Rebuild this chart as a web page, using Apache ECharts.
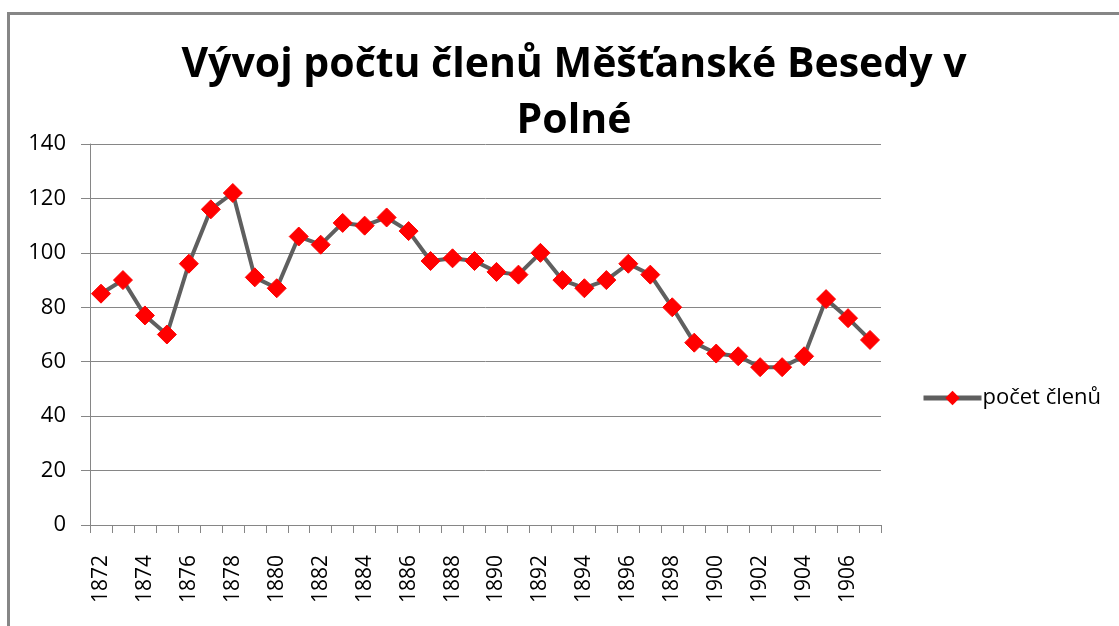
<!DOCTYPE html>
<html>
<head>
<meta charset="utf-8">
<script src="https://cdn.jsdelivr.net/npm/echarts@6/dist/echarts.min.js"></script>
<style>
  html, body { margin: 0; padding: 0; background: #fff; }
  #frame {
    position: absolute; left: 7px; top: 12px; width: 1120px; height: 630px;
    border-top: 3px solid #868686; border-left: 3px solid #868686;
  }
  #chart { position: absolute; left: 0; top: 0; width: 1119px; height: 626px; }
</style>
</head>
<body>
<div id="frame"></div>
<div id="chart"></div>
<script>
const years = ['1872', '1873', '1874', '1875', '1876', '1877', '1878', '1879', '1880', '1881',
  '1882', '1883', '1884', '1885', '1886', '1887', '1888', '1889', '1890', '1891',
  '1892', '1893', '1894', '1895', '1896', '1897', '1898', '1899', '1900', '1901',
  '1902', '1903', '1904', '1905', '1906', '1907']
const members = [85, 90, 77, 70, 96, 116, 122, 91, 87, 106,
  103, 111, 110, 113, 108, 97, 98, 97, 93, 92,
  100, 90, 87, 90, 96, 92, 80, 67, 63, 62,
  58, 58, 62, 83, 76, 68]
const seriesName = 'počet členů'
const titleText = 'Vývoj počtu členů Měšťanské Besedy v\nPolné'

const labelFont = '"Open Sans", "DejaVu Sans", sans-serif'

const myChart = echarts.init(document.getElementById('chart'))
myChart.setOption({
  animation: false,
  title: {
    text: titleText,
    left: 569,
    top: 32,
    textAlign: 'center',
    textStyle: {
      fontFamily: labelFont,
      fontSize: 41,
      fontWeight: 'bold',
      color: '#000',
      lineHeight: 56
    }
  },
  legend: {
    data: [seriesName],
    left: 916,
    top: 382,
    itemWidth: 58,
    itemHeight: 18,
    itemGap: 2,
    lineStyle: { width: 5, color: '#5f5f5f' },
    textStyle: { fontFamily: labelFont, fontSize: 22, color: '#000', padding: [0, 0, 0, -4] }
  },
  grid: {
    left: 90,
    right: 238,
    top: 144,
    bottom: 101
  },
  xAxis: {
    type: 'category',
    data: years,
    boundaryGap: true,
    axisLine: { lineStyle: { color: '#868686', width: 1 } },
    axisTick: { show: true, interval: 0, length: 8, lineStyle: { color: '#868686' } },
    axisLabel: {
      interval: 1,
      rotate: 90,
      margin: 30,
      fontFamily: labelFont,
      fontSize: 21,
      color: '#000'
    },
    splitLine: { show: false }
  },
  yAxis: {
    type: 'value',
    min: 0,
    max: 140,
    interval: 20,
    axisLine: { show: true, lineStyle: { color: '#868686', width: 1 } },
    axisTick: { show: true, length: 9, lineStyle: { color: '#868686' } },
    axisLabel: {
      margin: 24,
      fontFamily: labelFont,
      fontSize: 22,
      color: '#000'
    },
    splitLine: { lineStyle: { color: '#868686', width: 1 } }
  },
  series: [{
    name: seriesName,
    type: 'line',
    data: members,
    symbol: 'diamond',
    symbolSize: 19,
    showAllSymbol: true,
    lineStyle: { color: '#5f5f5f', width: 4 },
    itemStyle: { color: '#ff0000', borderColor: '#ff0000' }
  }]
})
window.addEventListener('resize', function() {
  myChart.resize()
})
</script>
</body>
</html>
